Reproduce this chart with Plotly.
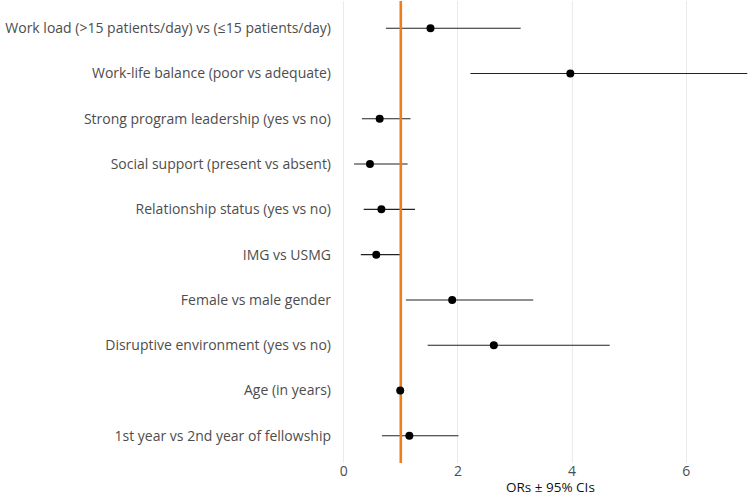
import plotly.graph_objects as go

categories = [
    "Work load (>15 patients/day) vs (≤15 patients/day)",
    "Work-life balance (poor vs adequate)",
    "Strong program leadership (yes vs no)",
    "Social support (present vs absent)",
    "Relationship status (yes vs no)",
    "IMG vs USMG",
    "Female vs male gender",
    "Disruptive environment (yes vs no)",
    "Age (in years)",
    "1st year vs 2nd year of fellowship",
]
odds_ratio = [1.52, 3.97, 0.63, 0.46, 0.66, 0.57, 1.90, 2.63, 0.99, 1.15]
ci_low = [0.74, 2.22, 0.32, 0.18, 0.35, 0.30, 1.09, 1.47, 0.97, 0.67]
ci_high = [3.10, 7.07, 1.17, 1.12, 1.25, 1.02, 3.32, 4.66, 1.01, 2.01]
x_ticks = [0, 2, 4, 6]
reference_or = 1
x_title = "ORs ± 95% CIs"

n = len(categories)
ypos = [n - 1 - i for i in range(n)]

fig = go.Figure()
# CI lines
fig.add_trace(go.Scatter(
    x=odds_ratio, y=ypos, mode="markers",
    marker=dict(size=8, color="rgba(0,0,0,0)"),
    error_x=dict(type="data", symmetric=False,
                 array=[h - o for h, o in zip(ci_high, odds_ratio)],
                 arrayminus=[o - l for o, l in zip(odds_ratio, ci_low)],
                 width=0, thickness=1.1, color="#222222"),
    hoverinfo="skip", showlegend=False, cliponaxis=True,
))
# reference line
fig.add_trace(go.Scatter(
    x=[reference_or, reference_or], y=[-0.6, n - 0.4], mode="lines",
    line=dict(color="#EE7D1B", width=2.6), showlegend=False, hoverinfo="skip",
))
# points
fig.add_trace(go.Scatter(
    x=odds_ratio, y=ypos, mode="markers",
    marker=dict(size=8, color="black"), showlegend=False,
))

fig.update_layout(
    width=749, height=497,
    margin=dict(l=338, r=0, t=1, b=34),
    plot_bgcolor="white", paper_bgcolor="white",
    font=dict(family="Open Sans, Noto Sans, sans-serif", color="#4D4D4D", size=13),
    xaxis=dict(
        range=[-0.1, 7.1], tickvals=x_ticks, ticktext=[str(t) for t in x_ticks],
        showgrid=True, gridcolor="#EBEBEB", gridwidth=1, zeroline=False,
        showline=False, ticks="", tickfont=dict(size=14, color="#4D4D4D"),
        automargin=False, ticklabelstandoff=-2,
    ),
    yaxis=dict(
        range=[-0.6, n - 0.4], tickvals=ypos, ticktext=categories,
        showgrid=False, zeroline=False, showline=False, ticks="",
        tickfont=dict(size=14, color="#4D4D4D"), ticklabelstandoff=6,
    ),
    annotations=[dict(
        text=x_title, xref="paper", yref="paper", x=0.518, y=0,
        xanchor="center", yanchor="bottom", yshift=-34, showarrow=False,
        borderpad=0, font=dict(size=13.5, color="#111111"),
    )],
)

fig.write_html("out.html", config={"displayModeBar": False},
               post_script="document.body.style.margin='0px';")
